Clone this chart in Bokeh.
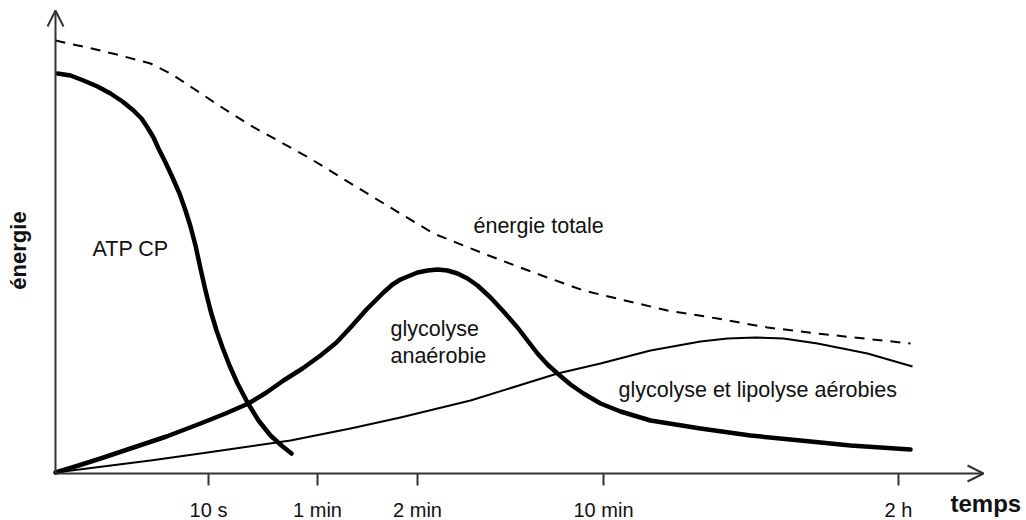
from bokeh.plotting import figure
from bokeh.models import Range1d, Arrow, OpenHead, Label
from bokeh.core.properties import value
from bokeh.embed import file_html
from bokeh.resources import INLINE

# --- data (time position along the axis, energy level) ---
tick_pos = [153, 262, 362, 548, 843]
tick_labels = ["10 s", "1 min", "2 min", "10 min", "2 h"]

atp_x = [2, 15, 28, 42, 55, 67, 78, 86, 92, 98, 103, 110, 117, 124, 130, 135, 140, 145,
         150, 155, 161, 167, 174, 182, 192, 203, 215, 226, 236]
atp_y = [400, 398, 393, 387, 380, 372, 363, 355, 346, 336, 325, 311, 296, 280, 263, 247,
         228, 205, 183, 163, 143, 126, 108, 90, 71, 53, 38, 28, 20]

ana_x = [0, 23, 45, 78, 111, 145, 170, 193, 211, 228, 247, 265, 281, 295, 311, 328, 337,
         345, 362, 372, 382, 392, 402, 412, 422, 435, 448, 462, 472, 482, 492, 502, 515,
         528, 545, 565, 595, 645, 695, 745, 795, 855]
ana_y = [1, 8, 15, 26, 37, 50, 60, 70, 81, 93, 105, 118, 131, 146, 164, 181, 189,
         194, 201, 203, 204, 203, 200, 195, 188, 176, 162, 146, 133, 120, 109, 100, 89,
         80, 70, 62, 53, 45, 38, 33, 28, 24]

aer_x = [0, 95, 145, 235, 295, 345, 415, 502, 545, 595, 645, 672, 700, 728, 762, 812, 857]
aer_y = [1, 13, 20, 33, 45, 56, 73, 100, 110, 123, 132, 135, 136, 135, 130, 120, 107]

tot_x = [0, 45, 65, 95, 115, 138, 165, 195, 253, 315, 378, 428, 478, 528, 578, 612, 662,
         712, 762, 855]
tot_y = [433, 423, 418, 410, 400, 385, 367, 348, 316, 278, 240, 220, 201, 183, 171, 163,
         155, 146, 140, 130]

FONT = "Liberation Sans"
AX = "#333333"
TXT = "#111111"

p = figure(width=1026, height=520, x_range=Range1d(-55, 971), y_range=Range1d(-47, 473),
           output_backend="svg", toolbar_location=None,
           x_axis_location=None, y_axis_location=None, min_border=0)
p.grid.visible = False
p.outline_line_color = None
p.background_fill_color = "white"

# curves
p.line(tot_x, tot_y, line_width=2, line_color="black", line_dash="10 8")
p.line(aer_x, aer_y, line_width=2, line_color="black", line_join="round")
p.line(ana_x, ana_y, line_width=4.5, line_color="black", line_join="round", line_cap="round")
p.line(atp_x, atp_y, line_width=4.5, line_color="black", line_join="round", line_cap="round")

# axes with arrows
p.add_layout(Arrow(end=OpenHead(size=16, line_width=2, line_color=AX),
                   x_start=0, y_start=0, x_end=928, y_end=0, line_width=2, line_color=AX))
p.add_layout(Arrow(end=OpenHead(size=16, line_width=2, line_color=AX),
                   x_start=0, y_start=0, x_end=0, y_end=463, line_width=2, line_color=AX))

# ticks and tick labels of the time axis
p.segment(x0=tick_pos, y0=[0] * len(tick_pos), x1=tick_pos, y1=[-12] * len(tick_pos),
          line_width=2, line_color=AX)
p.text(x=tick_pos, y=[-36] * len(tick_pos), text=tick_labels, text_font=value(FONT),
       text_font_size="20px", text_align="center", text_baseline="alphabetic",
       text_color=TXT)

def lab(x, y, t, size="21.5px", style="normal", align="left", angle=0, baseline="middle"):
    p.add_layout(Label(x=x, y=y, text=t, text_font=FONT, text_font_size=size,
                       text_font_style=style, text_align=align, text_baseline=baseline,
                       angle=angle, text_color=TXT))

lab(37, 225, "ATP CP")
lab(418, 248, "énergie totale")
lab(335, 145, "glycolyse")
lab(335, 118, "anaérobie")
lab(563, 84, "glycolyse et lipolyse aérobies")
lab(-37, 223, "énergie", size="22px", style="bold", align="center", angle=1.5708)
lab(895, -30, "temps", size="24px", style="bold", align="left", baseline="alphabetic")

open("out.html", "w").write(file_html(p, INLINE))
